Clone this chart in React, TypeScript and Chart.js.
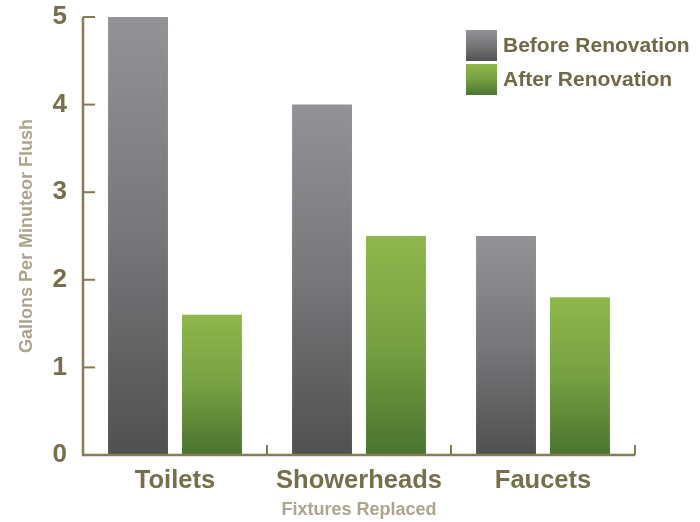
import React, { useEffect, useRef } from "react";
import { Chart, registerables } from "chart.js";

Chart.register(...registerables);

const categories = ["Toilets", "Showerheads", "Faucets"];
const beforeValues = [5, 4, 2.5];
const afterValues = [1.6, 2.5, 1.8];
const seriesLabels = ["Before Renovation", "After Renovation"];
const yTicks = [0, 1, 2, 3, 4, 5];

const AXIS_COLOR = "#857b55";
const LABEL_COLOR = "#766f4c";
const TITLE_COLOR = "#aaa58c";
const FONT = "'Liberation Sans', Arial, Helvetica, sans-serif";

const grayStops = ["#939397", "#77777a", "#505050"];
const greenStops = ["#8fb74c", "#77a042", "#4a732f"];

function makeGrad(ctx: CanvasRenderingContext2D, top: number, bottom: number, stops: string[]) {
  const g = ctx.createLinearGradient(0, top, 0, bottom);
  g.addColorStop(0, stops[0]);
  g.addColorStop(0.5, stops[1]);
  g.addColorStop(1, stops[2]);
  return g;
}

function barGradient(stops: string[]) {
  return (c: any) => {
    const chart = c.chart;
    const y = chart.scales?.y;
    if (!y || c.type !== "data") return stops[1];
    const v = c.raw as number;
    const top = y.getPixelForValue(v);
    const base = y.getPixelForValue(0);
    if (!isFinite(top) || !isFinite(base) || top === base) return stops[1];
    return makeGrad(chart.ctx, top, base, stops);
  };
}

const axesPlugin = {
  id: "customAxes",
  afterDraw(chart: any) {
    const { ctx, scales } = chart;
    const x = scales.x;
    const y = scales.y;
    const left = chart.chartArea.left;
    const right = chart.chartArea.right;
    const bottom = chart.chartArea.bottom;
    const top = chart.chartArea.top;
    ctx.save();
    ctx.strokeStyle = AXIS_COLOR;
    ctx.lineWidth = 2.5;
    ctx.lineCap = "butt";
    ctx.beginPath();
    ctx.moveTo(left, top);
    ctx.lineTo(left, bottom);
    ctx.lineTo(right, bottom);
    ctx.stroke();
    ctx.lineWidth = 2;
    yTicks.forEach((t) => {
      const py = y.getPixelForValue(t);
      ctx.beginPath();
      ctx.moveTo(left, py);
      ctx.lineTo(left + 12, py);
      ctx.stroke();
    });
    for (let i = 1; i <= categories.length; i++) {
      const px = x.getPixelForValue(i - 0.5);
      ctx.beginPath();
      ctx.moveTo(px, bottom);
      ctx.lineTo(px, bottom - 10);
      ctx.stroke();
    }
    // legend
    const legendX = 466;
    const legendYs = [30, 64];
    const stopsList = [grayStops, greenStops];
    ctx.font = `bold 21px ${FONT}`;
    ctx.textBaseline = "middle";
    ctx.textAlign = "left";
    seriesLabels.forEach((lab, i) => {
      const ly = legendYs[i];
      ctx.fillStyle = makeGrad(ctx, ly, ly + 31, stopsList[i]);
      ctx.fillRect(legendX, ly, 31, 31);
      ctx.fillStyle = "#6f6945";
      ctx.fillText(lab, legendX + 37, ly + 16);
    });
    ctx.restore();
  },
};

export default function App() {
  const canvasRef = useRef<HTMLCanvasElement | null>(null);

  useEffect(() => {
    if (!canvasRef.current) return;
    const chart = new Chart(canvasRef.current, {
      type: "bar",
      data: {
        labels: categories,
        datasets: [
          {
            label: seriesLabels[0],
            data: beforeValues,
            backgroundColor: barGradient(grayStops),
            borderWidth: 0,
            categoryPercentage: 0.804,
            barPercentage: 0.81,
          },
          {
            label: seriesLabels[1],
            data: afterValues,
            backgroundColor: barGradient(greenStops),
            borderWidth: 0,
            categoryPercentage: 0.804,
            barPercentage: 0.81,
          },
        ],
      },
      options: {
        animation: false,
        responsive: false,
        maintainAspectRatio: false,
        layout: { padding: { top: 17, right: 65, left: 0, bottom: 0 } },
        plugins: {
          legend: { display: false },
          tooltip: { enabled: false },
        },
        scales: {
          x: {
            grid: { display: false },
            border: { display: false },
            ticks: {
              color: LABEL_COLOR,
              font: { family: FONT, size: 25.5, weight: "bold" },
              padding: 3,
            },
            title: {
              display: true,
              text: "Fixtures Replaced",
              color: TITLE_COLOR,
              font: { family: FONT, size: 18, weight: "bold" },
              padding: { top: 0, bottom: 1 },
            },
            afterFit: (s: any) => {
              s.height = 67;
              s.paddingLeft = 0;
              s.paddingRight = 0;
            },
          },
          y: {
            min: 0,
            max: 5,
            grid: { display: false },
            border: { display: false },
            ticks: {
              stepSize: 1,
              color: LABEL_COLOR,
              font: { family: FONT, size: 26, weight: "bold" },
              padding: 8,
            },
            title: {
              display: true,
              text: "Gallons Per Minuteor Flush",
              color: TITLE_COLOR,
              font: { family: FONT, size: 18, weight: "bold" },
              padding: { top: 16, bottom: 0 },
            },
            afterFit: (s: any) => {
              s.width = 83;
              s.paddingTop = 0;
              s.paddingBottom = 0;
            },
          },
        },
      },
      plugins: [axesPlugin],
    });
    return () => chart.destroy();
  }, []);

  return (
    <div style={{ position: "fixed", left: 0, top: 0, width: 700, height: 522, background: "#fff" }}>
      <canvas ref={canvasRef} width={700} height={522} style={{ display: "block" }} />
    </div>
  );
}
